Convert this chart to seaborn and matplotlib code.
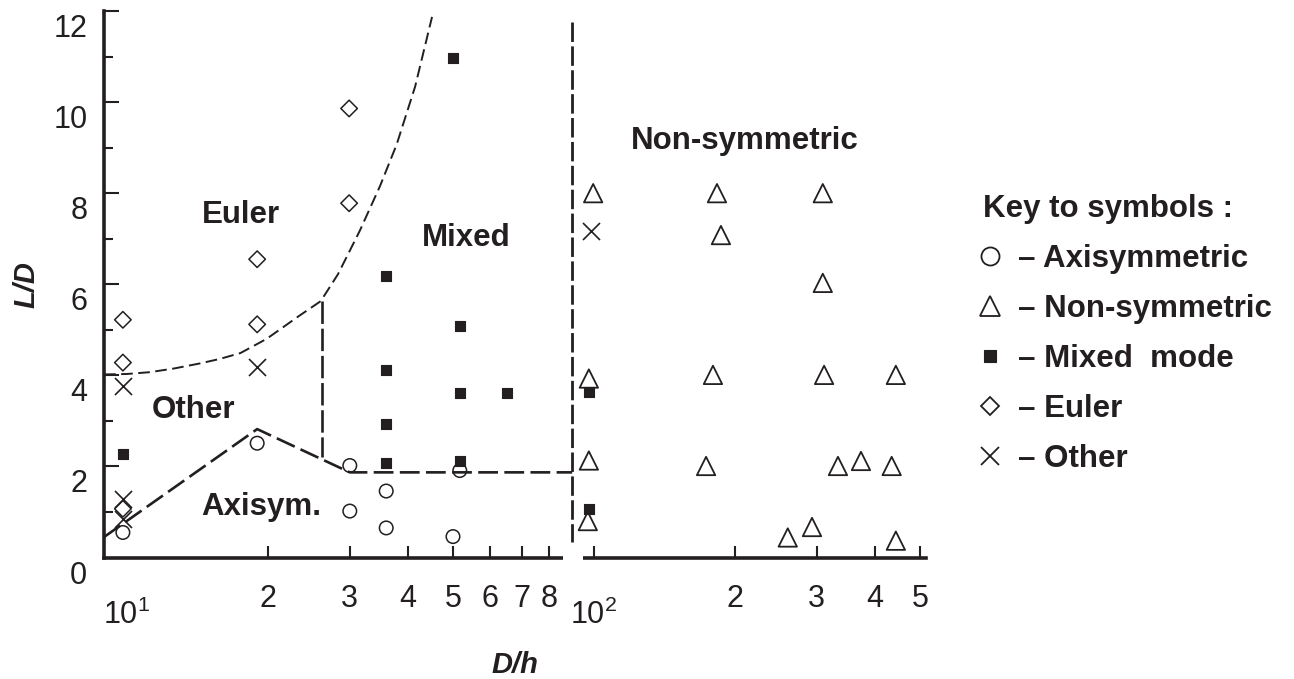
import numpy as np
import pandas as pd
import matplotlib
matplotlib.use("Agg")
import matplotlib.pyplot as plt
import matplotlib.transforms as mtransforms
from matplotlib.lines import Line2D
from matplotlib.ticker import NullLocator
import seaborn as sns

# ---------------- data ----------------
axi_x = [9.8, 19.0, 30.0, 30.0, 35.9, 35.9, 49.9, 51.6]
axi_y = [0.55, 2.51, 2.02, 1.02, 1.46, 0.65, 0.46, 1.91]

non_x = [99.6, 183.4, 187.0, 309.0, 309.0, 97.5, 179.8, 311.0, 443.0,
         97.5, 173.8, 333.0, 373.0, 434.0, 97.0, 260.0, 293.0, 443.0]
non_y = [8.0, 8.0, 7.08, 8.0, 6.03, 3.93, 4.01, 4.01, 4.01,
         2.13, 2.01, 2.01, 2.12, 2.01, 0.80, 0.44, 0.67, 0.37]

mix_x = [9.8, 35.9, 35.9, 35.9, 35.9, 49.9, 51.6, 51.6, 51.6, 65.2, 97.8, 97.8]
mix_y = [2.28, 6.18, 4.12, 2.94, 2.07, 10.96, 5.09, 3.62, 2.13, 3.62, 3.63, 1.07]

eul_x = [9.8, 9.8, 9.8, 19.0, 19.0, 29.9, 29.9]
eul_y = [5.22, 4.28, 1.07, 6.55, 5.12, 9.86, 7.78]

oth_x = [9.8, 9.8, 9.8, 19.0, 98.5]
oth_y = [3.77, 1.29, 0.85, 4.18, 7.17]

# region boundaries
euler_bx = [8.93, 10.0, 11.2, 12.6, 14.3, 15.8, 17.5, 19.9, 23.4, 26.0, 28.3, 31.5, 34.8, 37.8, 41.4, 45.0]
euler_by = [4.02, 4.03, 4.07, 4.15, 4.26, 4.36, 4.49, 4.80, 5.31, 5.63, 6.22, 7.17, 8.15, 9.07, 10.34, 11.87]
axi_bx = [8.93, 19.0, 30.0, 89.8]
axi_by = [0.45, 2.82, 1.87, 1.87]
mixl_x = [26.2, 26.2]
mixl_y = [5.63, 2.2]
nons_x = [89.8, 89.8]
nons_y = [11.76, 0.34]
axis_break = [86.0, 94.6]

# region labels
reg_text = ["Euler", "Mixed", "Non-symmetric", "Other", "Axisym."]
reg_x = [17.5, 53.4, 210.0, 13.85, 19.37]
reg_y = [7.34, 6.84, 8.96, 3.07, 0.93]

# ticks
xticks = [10, 20, 30, 40, 50, 60, 70, 80, 100, 200, 300, 400, 500]
xticklabels = [r"$\mathregular{10^1}$", "2", "3", "4", "5", "6", "7", "8",
               r"$\mathregular{10^2}$", "2", "3", "4", "5"]
yticks = [0, 2, 4, 6, 8, 10, 12]
yminor = [1, 3, 5, 7, 9, 11]

legend_title = "Key to symbols :"
legend_labels = ["\u2013 Axisymmetric", "\u2013 Non-symmetric", "\u2013 Mixed  mode",
                 "\u2013 Euler", "\u2013 Other"]

# ---------------- style ----------------
sns.set_style("ticks")
plt.rcParams["font.family"] = ["Liberation Sans", "DejaVu Sans"]
plt.rcParams["mathtext.default"] = "regular"
ink = "#231f20"

fig = plt.figure(figsize=(12.94, 6.79), dpi=100)
ax = fig.add_axes([0.0804, 0.1789, 0.6352, 0.8049])
ax.set_xscale("log")

# ---------------- markers ----------------
sns.scatterplot(x=axi_x, y=axi_y, marker="o", s=95, facecolor="none",
                edgecolor=ink, linewidth=1.1, ax=ax, zorder=5)
sns.scatterplot(x=non_x, y=non_y, marker="^", s=175, facecolor="none",
                edgecolor=ink, linewidth=1.3, ax=ax, zorder=5)
sns.scatterplot(x=mix_x, y=mix_y, marker="s", s=58, color=ink,
                edgecolor=ink, linewidth=0.8, ax=ax, zorder=5)
sns.scatterplot(x=eul_x, y=eul_y, marker="D", s=71, facecolor="none",
                edgecolor=ink, linewidth=1.1, ax=ax, zorder=5)
sns.scatterplot(x=oth_x, y=oth_y, marker="x", s=150, color=ink,
                linewidth=1.2, ax=ax, zorder=5)

# ---------------- boundaries ----------------
sns.lineplot(x=euler_bx, y=euler_by, sort=False, estimator=None, color=ink,
             linewidth=1.4, linestyle=(0, (6.0, 2.8)), ax=ax, zorder=4)
sns.lineplot(x=axi_bx, y=axi_by, sort=False, estimator=None, color=ink,
             linewidth=1.9, linestyle=(0, (7.5, 2.4)), ax=ax, zorder=4)
sns.lineplot(x=mixl_x, y=mixl_y, sort=False, estimator=None, color=ink,
             linewidth=1.9, linestyle=(0, (8.5, 1.8)), ax=ax, zorder=4)
ax.plot(axis_break, [0, 0], color="white", linewidth=6,
        solid_capstyle="butt", clip_on=False, zorder=3)
sns.lineplot(x=nons_x, y=nons_y, sort=False, estimator=None, color=ink,
             linewidth=2.0, linestyle=(0, (7.0, 1.6)), ax=ax, zorder=4)

# region labels
for t, x, y in zip(reg_text, reg_x, reg_y):
    ax.text(x, y, t, ha="center", va="baseline", fontsize=22.5,
            fontweight="bold", color=ink)

# ---------------- axes ----------------
ax.set_xlim(8.93, 514)
ax.set_ylim(0, 12)
for side in ["top", "right"]:
    ax.spines[side].set_visible(False)
for side in ["left", "bottom"]:
    ax.spines[side].set_linewidth(2.6)
    ax.spines[side].set_color(ink)

ax.set_xticks(xticks, xticklabels)
ax.xaxis.set_minor_locator(NullLocator())
ax.set_yticks(yticks)
ax.set_yticks(yminor, minor=True)

ax.tick_params(axis="y", which="major", direction="in", length=10.8, width=1.5,
               pad=12, labelsize=22, colors=ink)
ax.tick_params(axis="y", which="minor", direction="in", length=6.5, width=1.5,
               colors=ink)
ax.tick_params(axis="x", which="major", direction="in", length=8.6, width=1.5,
               pad=19, labelsize=22, colors=ink)

# y tick labels sit a little below their ticks
ydown = mtransforms.ScaledTranslation(0, -0.145, fig.dpi_scale_trans)
for lab in ax.get_yticklabels():
    lab.set_transform(lab.get_transform() + ydown)
# decade labels sit lower than the digit labels
xdown = mtransforms.ScaledTranslation(0, -0.16, fig.dpi_scale_trans)
xt = ax.xaxis.get_major_ticks()
for i, v in enumerate(xticks):
    if v in (10, 100):
        xt[i].label1.set_transform(xt[i].label1.get_transform() + xdown)
xt[0].tick1line.set_visible(False)

ax.set_xlabel("D/h", fontsize=21, fontweight="bold", fontstyle="italic", color=ink)
ax.xaxis.set_label_coords(0.5, -0.171)
ax.set_ylabel("L/D", fontsize=21, fontweight="bold", fontstyle="italic", color=ink)
ax.yaxis.set_label_coords(-0.077, 0.5)

# ---------------- legend ----------------
handles = [
    Line2D([], [], ls="none", marker="o", ms=13, mfc="none", mec=ink, mew=1.3),
    Line2D([], [], ls="none", marker="^", ms=14.5, mfc="none", mec=ink, mew=1.3),
    Line2D([], [], ls="none", marker="s", ms=8.3, mfc=ink, mec=ink, mew=0.8),
    Line2D([], [], ls="none", marker="D", ms=9.2, mfc="none", mec=ink, mew=1.3),
    Line2D([], [], ls="none", marker="x", ms=13.5, mec=ink, mew=1.3),
]
leg = fig.legend(handles, legend_labels, loc="upper left",
                 bbox_to_anchor=(0.760, 0.715), frameon=False,
                 title=legend_title,
                 title_fontproperties={"weight": "bold", "size": 22.5},
                 prop={"weight": "bold", "size": 22.5}, labelcolor=ink,
                 alignment="left", handlelength=0.4, handletextpad=0.7,
                 labelspacing=0.643, borderpad=0, borderaxespad=0)
leg.get_title().set_color(ink)

fig.savefig("out.png", dpi=100)
